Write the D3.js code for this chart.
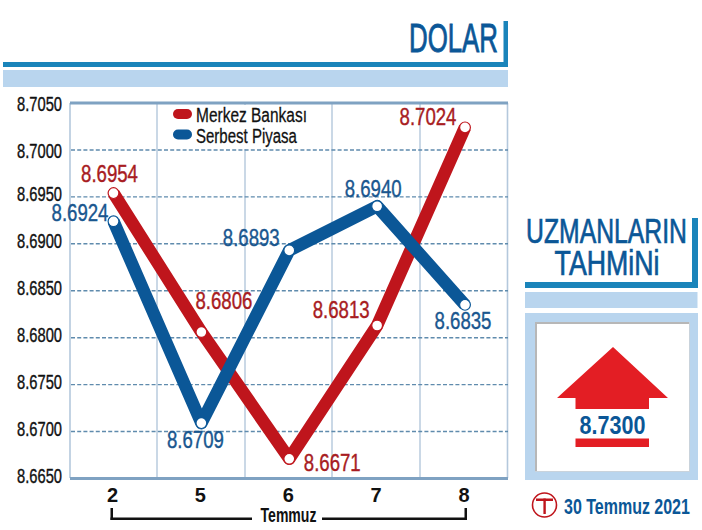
<!DOCTYPE html>
<html><head><meta charset="utf-8">
<style>html,body{margin:0;padding:0;background:#fff}svg{display:block}text{font-family:"Liberation Sans",sans-serif}</style>
<script src="https://cdn.jsdelivr.net/npm/d3@7/dist/d3.min.js"></script></head><body>
<script>
const days = ["2","5","6","7","8"];
const merkezBankasi = [8.6954,8.6806,8.6671,8.6813,8.7024];
const serbestPiyasa = [8.6924,8.6709,8.6893,8.6940,8.6835];
const yTicks = [8.665,8.67,8.675,8.68,8.685,8.69,8.695,8.7,8.705];
const seriesNames = ["Merkez Bankası","Serbest Piyasa"];
const monthLabel = "Temmuz";
const forecast = 8.73;
const dateLabel = "30 Temmuz 2021";
const RED="#bf151c", BLUE="#0b5797", BAND="#1a84ba", LIGHT="#b9d5ee", BRIGHT="#e31e24";

const svg=d3.select("body").append("svg").attr("width",702).attr("height",530);
const x=d3.scalePoint().domain(days).range([113.5,465]);
const y=d3.scaleLinear().domain([8.665,8.705]).range([478.5,103]);
const fmt=d3.format(".4f");
const rect=(a,b,c,d,f)=>svg.append("rect").attr("x",a).attr("y",b).attr("width",c-a).attr("height",d-b).attr("fill",f);
// text squeezed horizontally to the condensed width of the original lettering
function txt(s,px,py,size,fill,o={}){
  const g=svg.append("text").attr("text-anchor",o.a||"middle").attr("font-size",size).attr("fill",fill).text(s);
  if(o.b) g.attr("font-weight","bold");
  if(o.st) g.attr("stroke",fill).attr("stroke-width",o.st);
  const sx=o.w/g.node().getComputedTextLength();
  g.attr("transform",`translate(${px},${py}) scale(${sx},1)`);
  return g;
}
// header
rect(3,62,508,67,BAND); rect(503.5,21,508,67,BAND); rect(3,70,508,87,LIGHT);
txt("DOLAR",498,52,41,BLUE,{a:"end",w:89,st:0.9});
// grid
[157,245,332,420].forEach(v=>svg.append("line").attr("x1",v).attr("x2",v).attr("y1",103).attr("y2",478).attr("stroke","#b4c8dc").attr("stroke-width",1.4));
[70,507.5].forEach(v=>svg.append("line").attr("x1",v).attr("x2",v).attr("y1",103).attr("y2",478).attr("stroke","#b4c8dc").attr("stroke-width",1.6));
yTicks.filter(t=>t>8.665&&t<8.705).forEach(t=>svg.append("line").attr("x1",71).attr("x2",508).attr("y1",y(t)).attr("y2",y(t)).attr("stroke","#5f8bad").attr("stroke-width",1.4).attr("stroke-dasharray","4 2.2"));
// y axis: labels sit just below their lines, the top two a little lower
const yAxis=d3.axisLeft(y).tickValues(yTicks).tickSize(0).tickPadding(0).tickFormat(fmt);
const ya=svg.append("g").attr("transform","translate(62,0)").call(yAxis);
ya.select(".domain").remove();
ya.selectAll("text").attr("font-size",21).attr("fill","#111").attr("stroke","#111").attr("stroke-width",0.4)
  .attr("x",0).attr("dy",0).attr("transform",function(d){
    return `translate(0,${d>=8.7?7.5:3.5}) scale(${45/this.getComputedTextLength()},1)`;});
rect(70,101.5,508,104.5,"#7fa2c2"); rect(70,477,508,480,"#7fa2c2");
// legend
rect(171,105,312,149,"#fff");
const legendWidths=[111,101];
[RED,BLUE].forEach((c,i)=>{
  svg.append("rect").attr("x",173).attr("y",109+i*20.5).attr("width",19).attr("height",10).attr("rx",5).attr("fill",c);
  txt(seriesNames[i],196,122+i*20.5,21,"#111",{a:"start",w:legendWidths[i],st:0.3});
});
// lines
const line=d3.line().x((d,i)=>x(days[i])).y(d=>y(d));
[[merkezBankasi,RED],[serbestPiyasa,BLUE]].forEach(([s,c])=>{
  svg.append("path").attr("d",line(s)).attr("fill","none").attr("stroke",c).attr("stroke-width",12.5).attr("stroke-linejoin","round");
});
[[merkezBankasi,RED],[serbestPiyasa,BLUE]].forEach(([s,c])=>{
  svg.selectAll(null).data(s).enter().append("circle").attr("cx",(d,i)=>x(days[i])).attr("cy",d=>y(d)).attr("r",5.4).attr("fill","#fff").attr("stroke",c).attr("stroke-width",1.2);
});
// value labels: offset of each label (centre, baseline) from its point
const redLabelOffsets=[[-4,-11.5],[22.5,-23],[43,12],[-36,-7],[-37,-2]];
const blueLabelOffsets=[[-33.5,-0.5],[-6,25],[-38,-4],[-4,-9],[-2,24]];
[[merkezBankasi,"#a81c22",redLabelOffsets],[serbestPiyasa,"#1a578f",blueLabelOffsets]].forEach(([s,c,o])=>{
  s.forEach((v,i)=>txt(fmt(v),x(days[i])+o[i][0],y(v)+o[i][1],24,c,{w:57,st:0.4}));
});
// x axis
const xa=svg.append("g").attr("transform","translate(-1.5,478)").call(d3.axisBottom(x).tickSize(0).tickPadding(10));
xa.select(".domain").remove();
xa.selectAll("text").attr("font-size",20).attr("font-weight","bold").attr("fill","#111");
const br="#111";
rect(110.5,508,113,520,br); rect(110.5,517.5,252,520,br);
rect(322,517.5,467,520,br); rect(464.5,508,467,520,br);
txt(monthLabel,288.5,522,20,"#111",{b:1,w:56});
// right panel
rect(692,218,698,288,BAND); rect(525,282,698,288,BAND); rect(525,292,697.5,308,LIGHT);
txt("UZMANLARIN",606.5,243,35,BLUE,{w:161,st:0.7});
txt("TAHMiNi",607,275,35,BLUE,{w:105,st:0.7});
rect(525,313,698,480,LIGHT); rect(535,322,690,472,"#c9d3dc"); rect(535,322,689,471,"#b7b7b7"); rect(537,324,689,471,"#fff");
const arrow=d3.path();
arrow.moveTo(613,347);arrow.lineTo(668,398);arrow.lineTo(649,398);arrow.lineTo(649,409);arrow.lineTo(575.5,409);arrow.lineTo(575.5,398);arrow.lineTo(557,398);arrow.closePath();
svg.append("path").attr("d",arrow.toString()).attr("fill",BRIGHT);
txt(fmt(forecast),612.5,434,26.5,BLUE,{b:1,w:66});
rect(575.5,438.5,649,447,BRIGHT);
svg.append("circle").attr("cx",544.5).attr("cy",505).attr("r",12).attr("fill","#fff").attr("stroke",RED).attr("stroke-width",1.6);
rect(536,498.5,553,501,RED); rect(543.4,498.5,545.8,514,RED);
txt(dateLabel,564,514,21.5,BLUE,{a:"start",b:1,w:126});
</script></body></html>
